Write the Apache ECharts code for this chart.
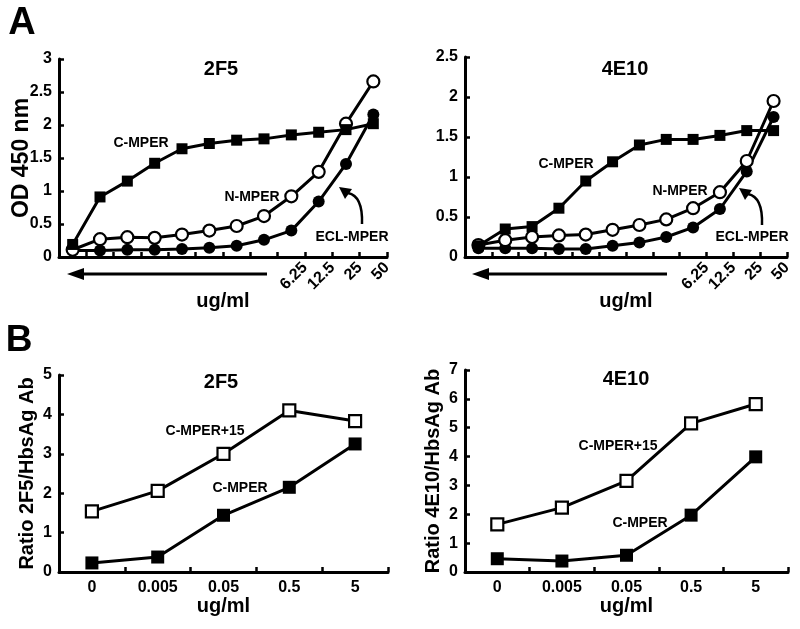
<!DOCTYPE html>
<html>
<head>
<meta charset="utf-8">
<script src="https://cdn.jsdelivr.net/npm/echarts@6/dist/echarts.min.js"></script>
<style>html,body{margin:0;padding:0;background:#fff}#c{width:800px;height:629px}</style>
</head>
<body>
<div id="c"></div>
<script>
// ---- Data ----
var catsA = ['1','2','3','4','5','6','7','8','9','10','11','12'];
// labels at the category boundaries 0..12 (only highest concentrations labelled)
var boundaryLabelsA = ['','','','','','','','','','6.25','12.5','25','50'];
var a2f5_C = [0.19,0.91,1.15,1.42,1.64,1.72,1.77,1.79,1.85,1.89,1.93,2.02];
var a2f5_N = [0.11,0.27,0.30,0.29,0.34,0.40,0.47,0.62,0.92,1.29,2.02,2.66];
var a2f5_E = [0.10,0.10,0.11,0.11,0.12,0.14,0.17,0.26,0.40,0.84,1.41,2.16];
var a4e10_C = [0.14,0.35,0.38,0.61,0.95,1.19,1.40,1.47,1.47,1.52,1.58,1.58];
var a4e10_N = [0.15,0.21,0.25,0.27,0.28,0.34,0.40,0.47,0.61,0.81,1.20,1.95];
var a4e10_E = [0.11,0.11,0.11,0.10,0.10,0.14,0.18,0.25,0.37,0.60,1.07,1.75];

var catsB = ['0','0.005','0.05','0.5','5'];
var b2f5_C15 = [1.54,2.06,3.00,4.10,3.83];
var b2f5_C   = [0.23,0.38,1.44,2.15,3.25];
var b4e10_C15 = [1.65,2.23,3.16,5.15,5.82];
var b4e10_C   = [0.46,0.38,0.58,1.97,3.99];

// ---- Styles ----
var FONT = '"Liberation Sans", Arial, sans-serif';
var AX = {color:'#000', width:3};
function yAx(grid, max, name, nameGap, nameSize){
  return {type:'value', gridIndex:grid, min:0, max:max, interval:(max<=3?0.5:1),
    axisLine:{show:true, lineStyle:AX}, splitLine:{show:false},
    axisTick:{show:true, inside:true, length:5, lineStyle:{color:'#000', width:2.5}},
    axisLabel:{color:'#000', fontFamily:FONT, fontWeight:'bold', fontSize:16, margin:7},
    name:name||'', nameLocation:'middle', nameGap:nameGap||20, nameRotate:90, nameMoveOverlap:false,
    nameTextStyle:{color:'#000', fontFamily:FONT, fontWeight:'bold', fontSize:nameSize||20}};
}
function xCatA(grid){
  return {type:'category', gridIndex:grid, data:catsA, boundaryGap:true, position:'bottom',
    axisLine:{show:true, lineStyle:AX},
    axisTick:{show:true, inside:true, length:5, interval:0, lineStyle:{color:'#000', width:2.5}},
    axisLabel:{show:false}, nameMoveOverlap:false,
    name:'ug/ml', nameLocation:'middle', nameGap:34,
    nameTextStyle:{color:'#000', fontFamily:FONT, fontWeight:'bold', fontSize:20}};
}
function xValA(grid){
  return {type:'value', gridIndex:grid, min:0, max:12, interval:1, position:'bottom',
    axisLine:{show:false}, axisTick:{show:false}, splitLine:{show:false},
    axisLabel:{color:'#000', fontFamily:FONT, fontWeight:'bold', fontSize:16, rotate:45, margin:8,
      formatter:function(v){return boundaryLabelsA[v]||'';}}};
}
function xCatB(grid){
  return {type:'category', gridIndex:grid, data:catsB, boundaryGap:true,
    axisLine:{show:true, lineStyle:AX},
    axisTick:{show:true, inside:true, length:5, interval:0, lineStyle:{color:'#000', width:2.5}},
    axisLabel:{color:'#000', fontFamily:FONT, fontWeight:'bold', fontSize:16, margin:8, interval:0},
    name:'ug/ml', nameLocation:'middle', nameGap:17,
    nameTextStyle:{color:'#000', fontFamily:FONT, fontWeight:'bold', fontSize:20}};
}
function ser(xi, yi, data, symbol, size, open){
  return {type:'line', xAxisIndex:xi, yAxisIndex:yi, data:data, symbol:symbol, symbolSize:size,
    showSymbol:true, animation:false,
    lineStyle:{color:'#000', width:3},
    itemStyle:open?{color:'#fff', borderColor:'#000', borderWidth:2.2}:{color:'#000', borderColor:'#000', borderWidth:0}};
}

function txt(x, y, s, size){
  return {type:'text', x:x, y:y, silent:true,
    style:{text:s, x:0, y:0, textAlign:'center', textVerticalAlign:'middle',
      font:'bold '+size+'px '+FONT, fill:'#000'}};
}
function hArrow(tipX, tailX, y){
  return [
    {type:'line', shape:{x1:tipX+12, y1:y, x2:tailX, y2:y}, style:{stroke:'#000', lineWidth:3}},
    {type:'polygon', shape:{points:[[tipX,y],[tipX+17,y-6],[tipX+17,y+6]]}, style:{fill:'#000'}}
  ];
}
function curveArrow(dx, dy){
  var bx=362+dx, by=224+dy;
  return [
    {type:'bezierCurve', shape:{x1:bx, y1:by, cpx1:bx+1, cpy1:196+dy, x2:348+dx, y2:193+dy},
      style:{stroke:'#000', lineWidth:2.5, fill:null}},
    {type:'polygon', shape:{points:[[339+dx,187+dy],[352+dx,189+dy],[345+dx,199+dy]]}, style:{fill:'#000'}}
  ];
}

var graphics = [
  txt(22, 24, 'A', 38), txt(19, 341, 'B', 37),
  txt(221, 69, '2F5', 20), txt(625, 69, '4E10', 20),
  txt(221, 382, '2F5', 20), txt(626, 379, '4E10', 20),
  txt(141, 143, 'C-MPER', 14), txt(252, 197, 'N-MPER', 14), txt(352, 237, 'ECL-MPER', 14),
  txt(566, 164, 'C-MPER', 14), txt(680, 191, 'N-MPER', 14), txt(752, 237, 'ECL-MPER', 14),
  txt(205, 431, 'C-MPER+15', 14), txt(240, 488, 'C-MPER', 14),
  txt(618, 446, 'C-MPER+15', 14), txt(640, 523, 'C-MPER', 14)
].concat(hArrow(67, 267, 274), hArrow(472, 667, 274), curveArrow(0,0), curveArrow(400,1));

var option = {
  animation:false,
  backgroundColor:'#fff',
  grid:[
    {left:59, top:59, width:328, height:198},
    {left:465, top:57, width:322, height:200},
    {left:59, top:375, width:329, height:197},
    {left:465, top:370, width:323, height:202}
  ],
  xAxis:[xCatA(0), xValA(0), xCatA(1), xValA(1), xCatB(2), xCatB(3)],
  yAxis:[yAx(0,3,'OD 450 nm',26,23), yAx(1,2.5), yAx(2,5,'Ratio 2F5/HbsAg Ab',22,20), yAx(3,7,'Ratio 4E10/HbsAg Ab',22,20)],
  series:[
    ser(0,0,a2f5_E,'circle',12,false),
    ser(0,0,a2f5_N,'circle',12,true),
    ser(0,0,a2f5_C,'rect',11,false),
    ser(2,1,a4e10_E,'circle',12,false),
    ser(2,1,a4e10_N,'circle',12,true),
    ser(2,1,a4e10_C,'rect',11,false),
    ser(4,2,b2f5_C15,'rect',12,true),
    ser(4,2,b2f5_C,'rect',13,false),
    ser(5,3,b4e10_C15,'rect',12,true),
    ser(5,3,b4e10_C,'rect',13,false)
  ],
  graphic:graphics
};
var chart = echarts.init(document.getElementById('c'), null, {renderer:'canvas'});
chart.setOption(option);
</script>
</body>
</html>
